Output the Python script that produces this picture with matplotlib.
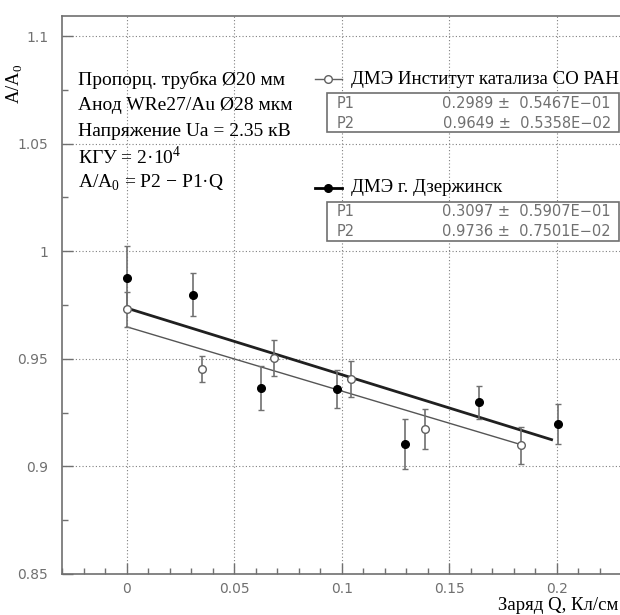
import matplotlib
matplotlib.use("Agg")
import matplotlib.pyplot as plt
from matplotlib.lines import Line2D
from matplotlib.patches import Rectangle
from matplotlib.ticker import MultipleLocator

# ДМЭ Институт катализа СО РАН (open circles)
q_open = [0.0, 0.0352, 0.0687, 0.1045, 0.1386, 0.1833]
a_open = [0.973, 0.9451, 0.9504, 0.9406, 0.9175, 0.9098]
e_open = [0.0082, 0.006, 0.0085, 0.0084, 0.0094, 0.0087]

# ДМЭ г. Дзержинск (filled circles)
q_fill = [0.0, 0.031, 0.0623, 0.0978, 0.1292, 0.1639, 0.2003]
a_fill = [0.9877, 0.9798, 0.9363, 0.9361, 0.9106, 0.9298, 0.9198]
e_fill = [0.0147, 0.0101, 0.0103, 0.0089, 0.0116, 0.0077, 0.0093]

# fit parameters A/A0 = P2 - P1*Q
p_open = (0.2989, 0.9649)
p_fill = (0.3097, 0.9736)
fit_open_range = (0.0, 0.1833)
fit_fill_range = (0.0, 0.1975)

info_lines = ["Пропорц. трубка Ø20 мм",
              "Анод WRe27/Au Ø28 мкм",
              "Напряжение Ua = 2.35 кВ",
              r"КГУ = 2·10$^\mathrm{4}$",
              r"A/A$_\mathrm{0}$ = P2 − P1·Q"]

W, H = 620, 615
plt.rcParams['mathtext.fontset'] = 'custom'
plt.rcParams['mathtext.rm'] = 'Liberation Serif'
serif = 'Liberation Serif'
sans = 'DejaVu Sans'
grey = '#707070'


def fx(px):
    return px / W


def fy(py):
    return 1 - py / H


fig = plt.figure(figsize=(6.2, 6.15), dpi=100)
ax = fig.add_axes([fx(62), fy(574), fx(620) - fx(62), fy(16) - fy(574)])
ax.set_xlim(-0.03, 0.2293)
ax.set_ylim(0.85, 1.1093)

ax.xaxis.set_major_locator(MultipleLocator(0.05))
ax.xaxis.set_minor_locator(MultipleLocator(0.01))
ax.yaxis.set_major_locator(MultipleLocator(0.05))
ax.yaxis.set_minor_locator(MultipleLocator(0.025))
ax.xaxis.set_major_formatter(plt.FuncFormatter(lambda v, p: f"{v:g}"))
ax.yaxis.set_major_formatter(plt.FuncFormatter(lambda v, p: f"{v:g}"))
ax.tick_params(which='major', direction='in', length=8, width=1, color=grey,
               labelcolor=grey, labelsize=10)
ax.tick_params(axis='y', which='major', pad=10)
ax.tick_params(axis='x', which='major', pad=6)
ax.tick_params(which='minor', direction='in', length=4, width=1, color=grey)
for lab in ax.get_xticklabels() + ax.get_yticklabels():
    lab.set_family(sans)
ax.grid(which='major', color='#808080', linestyle=(0, (1, 2)), linewidth=0.8)
for s in ['left', 'bottom', 'top']:
    ax.spines[s].set_color(grey)
    ax.spines[s].set_linewidth(1.2)
ax.spines['right'].set_visible(False)

# fits
xo = list(fit_open_range)
ax.plot(xo, [p_open[1] - p_open[0] * x for x in xo], color='#555555',
        lw=1.0, zorder=3)
xf = list(fit_fill_range)
ax.plot(xf, [p_fill[1] - p_fill[0] * x for x in xf], color='#202020',
        lw=2.0, zorder=3)

# data
ax.errorbar(q_fill, a_fill, yerr=e_fill, fmt='o', color='black', ms=5.5,
            ecolor=grey, elinewidth=1.2, capsize=2.5, capthick=1.0, zorder=4)
ax.errorbar(q_open, a_open, yerr=e_open, fmt='o', mfc='white', mec='#606060',
            ms=5.5, mew=1.0, ecolor=grey, elinewidth=1.2, capsize=2.5,
            capthick=1.0, zorder=5)

# info text
for i, t in enumerate(info_lines):
    fig.text(fx(78), fy(80 + i * 25.7), t, family=serif, fontsize=14,
             va='center', ha='left')

# axis labels
fig.text(fx(15), fy(84), r"A/A$_\mathrm{0}$", family=serif, fontsize=13.5,
         rotation=90, va='center', ha='center')
fig.text(fx(618), fy(606), "Заряд Q, Кл/см", family=serif, fontsize=13.5,
         va='center', ha='right')


# legend entries with fit boxes
def legend_entry(y0, label, pars, errs, filled):
    line = Line2D([fx(315), fx(342)], [fy(y0), fy(y0)],
                  color='black' if filled else '#606060',
                  lw=2.0 if filled else 1.0, transform=fig.transFigure)
    fig.add_artist(line)
    mk = Line2D([fx(328.5)], [fy(y0)], marker='o', ms=5.5,
                mfc='black' if filled else 'white',
                mec='black' if filled else '#606060',
                transform=fig.transFigure)
    fig.add_artist(mk)
    fig.text(fx(351), fy(y0), label, family=serif, fontsize=13.6,
             va='center', ha='left')
    box = Rectangle((fx(327), fy(y0 + 53)), fx(619) - fx(327),
                    fy(y0 + 14) - fy(y0 + 53), fill=True, fc='white',
                    ec=grey, lw=1.2, transform=fig.transFigure, zorder=6)
    fig.add_artist(box)
    for k, (name, v, e) in enumerate(zip(["P1", "P2"], pars, errs)):
        yy = fy(y0 + 24 + k * 20)
        fig.text(fx(337), yy, name, family=sans, fontsize=10.5, color=grey,
                 va='center', ha='left', zorder=7)
        fig.text(fx(611), yy, f"{v:.4f} ±  {e}", family=sans, fontsize=10.5,
                 color=grey, va='center', ha='right', zorder=7)


legend_entry(79, "ДМЭ Институт катализа СО РАН", p_open,
             ["0.5467E−01", "0.5358E−02"], False)
legend_entry(188, "ДМЭ г. Дзержинск", p_fill,
             ["0.5907E−01", "0.7501E−02"], True)

fig.savefig("out.png", dpi=100)
